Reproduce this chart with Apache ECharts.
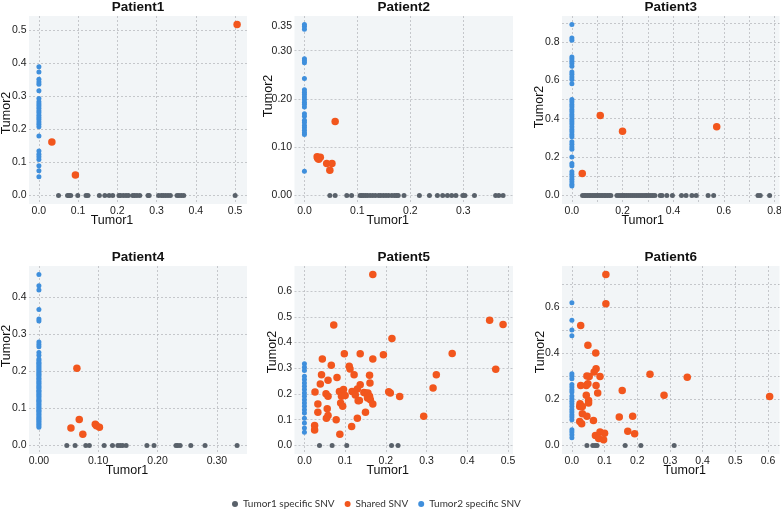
<!DOCTYPE html>
<html><head><meta charset="utf-8">
<script src="https://cdn.jsdelivr.net/npm/echarts@6/dist/echarts.min.js"></script>
<style>html,body{margin:0;padding:0;background:#fff}#c{width:781px;height:515px}</style>
</head><body><div id="c"></div>
<script>
const patients = ['Patient1', 'Patient2', 'Patient3', 'Patient4', 'Patient5', 'Patient6'];
const seriesNames = ['Tumor1 specific SNV', 'Shared SNV', 'Tumor2 specific SNV'];
const xAxisName = 'Tumor1';
const yAxisName = 'Tumor2';

// Patient1
const p1Tumor1 = [0.050,0.073,0.077,0.081,0.099,0.120,0.125,0.154,0.168,0.179,0.188,0.204,0.208,0.215,0.222,0.228,0.239,0.244,0.250,0.257,0.278,0.281,0.305,0.312,0.317,0.323,0.329,0.335,0.352,0.357,0.363,0.369,0.500];
const p1Tumor2 = [0.390,0.374,0.352,0.344,0.337,0.317,0.294,0.284,0.277,0.271,0.264,0.257,0.251,0.243,0.236,0.230,0.223,0.216,0.208,0.180,0.135,0.125,0.117,0.109,0.090,0.075,0.057];
const p1SharedX = [0.033, 0.093, 0.505];
const p1SharedY = [0.162, 0.062, 0.518];

// Patient2
const p2Tumor1 = [0.048,0.058,0.080,0.089,0.105,0.108,0.111,0.115,0.119,0.124,0.129,0.134,0.140,0.144,0.149,0.154,0.159,0.165,0.170,0.174,0.177,0.188,0.217,0.236,0.251,0.261,0.270,0.278,0.286,0.299,0.303,0.321,0.361,0.367,0.375];
const p2Tumor2 = [0.354,0.350,0.344,0.283,0.279,0.275,0.242,0.219,0.214,0.209,0.204,0.199,0.193,0.189,0.183,0.169,0.164,0.156,0.151,0.145,0.140,0.135,0.130,0.126,0.050];
const p2SharedX = [0.024, 0.027, 0.030, 0.025, 0.042, 0.052, 0.048, 0.058];
const p2SharedY = [0.080, 0.075, 0.079, 0.077, 0.066, 0.066, 0.052, 0.153];

// Patient3
const p3Tumor1 = [0.042,0.049,0.055,0.062,0.069,0.075,0.082,0.088,0.095,0.101,0.108,0.115,0.121,0.128,0.134,0.141,0.148,0.154,0.178,0.186,0.194,0.202,0.209,0.217,0.225,0.233,0.241,0.249,0.257,0.265,0.273,0.281,0.289,0.296,0.304,0.312,0.320,0.328,0.349,0.356,0.375,0.397,0.433,0.451,0.474,0.491,0.538,0.560,0.735,0.744,0.781];
const p3Tumor2 = [0.891,0.821,0.809,0.722,0.712,0.700,0.688,0.674,0.644,0.632,0.618,0.604,0.583,0.500,0.488,0.474,0.462,0.448,0.436,0.422,0.410,0.396,0.384,0.372,0.358,0.344,0.332,0.318,0.306,0.280,0.267,0.253,0.241,0.201,0.167,0.155,0.123,0.111,0.097,0.085,0.071,0.059,0.049];
const p3SharedX = [0.041, 0.112, 0.200, 0.572];
const p3SharedY = [0.115, 0.417, 0.335, 0.358];

// Patient4
const p4Tumor1 = [0.047,0.061,0.079,0.085,0.110,0.124,0.133,0.137,0.141,0.147,0.182,0.194,0.231,0.234,0.238,0.256,0.280,0.334];
const p4Tumor2 = [0.461,0.431,0.419,0.367,0.341,0.336,0.279,0.272,0.266,0.251,0.243,0.233,0.229,0.224,0.221,0.217,0.213,0.209,0.205,0.201,0.197,0.193,0.190,0.186,0.181,0.178,0.173,0.169,0.166,0.161,0.158,0.154,0.149,0.146,0.142,0.138,0.134,0.131,0.126,0.122,0.119,0.115,0.111,0.107,0.103,0.099,0.095,0.092,0.088,0.084,0.080,0.076,0.072,0.069,0.065,0.061,0.057,0.053,0.049];
const p4SharedX = [0.054, 0.064, 0.068, 0.074, 0.095, 0.097, 0.102];
const p4SharedY = [0.047, 0.208, 0.070, 0.030, 0.057, 0.053, 0.049];

// Patient5
const p5Tumor1 = [0.037, 0.068, 0.104, 0.214, 0.230];
const p5Tumor2 = [0.317,0.304,0.291,0.269,0.256,0.243,0.230,0.217,0.204,0.191,0.178,0.165,0.152,0.139,0.126,0.106,0.087,0.068,0.051];
const p5SharedX = [0.168,0.072,0.215,0.455,0.488,0.470,0.363,0.324,0.316,0.293,0.234,0.211,0.207,0.194,0.168,0.137,0.098,0.044,0.042,0.039,0.026,0.066,0.080,0.058,0.110,0.112,0.122,0.160,0.137,0.161,0.053,0.058,0.086,0.096,0.091,0.100,0.117,0.130,0.125,0.146,0.150,0.156,0.160,0.155,0.162,0.135,0.132,0.168,0.089,0.094,0.033,0.033,0.056,0.054,0.058,0.078,0.130,0.150,0.116,0.087,0.025,0.025];
const p5SharedY = [0.664,0.468,0.416,0.486,0.470,0.296,0.357,0.275,0.223,0.113,0.190,0.204,0.209,0.352,0.336,0.356,0.356,0.336,0.275,0.239,0.208,0.312,0.264,0.253,0.308,0.297,0.275,0.273,0.236,0.243,0.201,0.191,0.210,0.217,0.191,0.194,0.210,0.219,0.196,0.206,0.204,0.204,0.191,0.184,0.178,0.175,0.174,0.161,0.165,0.152,0.161,0.129,0.143,0.106,0.116,0.100,0.106,0.129,0.074,0.044,0.078,0.060];

// Patient6
const p6Tumor1 = [0.046, 0.064, 0.071, 0.077, 0.163, 0.211, 0.313];
const p6Tumor2 = [0.618,0.542,0.500,0.475,0.311,0.301,0.289,0.264,0.253,0.241,0.231,0.214,0.202,0.191,0.181,0.169,0.156,0.145,0.133,0.123,0.111,0.068,0.058,0.046,0.033];
const p6SharedX = [0.104,0.104,0.027,0.049,0.073,0.074,0.068,0.086,0.046,0.053,0.027,0.044,0.049,0.074,0.079,0.044,0.051,0.051,0.025,0.024,0.032,0.032,0.046,0.024,0.030,0.066,0.154,0.239,0.353,0.282,0.605,0.145,0.186,0.171,0.192,0.072,0.086,0.100,0.082,0.097];
const p6SharedY = [0.740,0.614,0.519,0.434,0.400,0.332,0.318,0.299,0.301,0.299,0.260,0.260,0.267,0.260,0.227,0.217,0.195,0.184,0.181,0.169,0.169,0.137,0.126,0.104,0.094,0.108,0.238,0.308,0.295,0.217,0.212,0.123,0.126,0.061,0.051,0.043,0.058,0.053,0.030,0.025];

const tumor1Specific = [p1Tumor1, p2Tumor1, p3Tumor1, p4Tumor1, p5Tumor1, p6Tumor1];
const tumor2Specific = [p1Tumor2, p2Tumor2, p3Tumor2, p4Tumor2, p5Tumor2, p6Tumor2];
const sharedX = [p1SharedX, p2SharedX, p3SharedX, p4SharedX, p5SharedX, p6SharedX];
const sharedY = [p1SharedY, p2SharedY, p3SharedY, p4SharedY, p5SharedY, p6SharedY];

// tick settings (step of grid lines, step of labels, decimals, extra labels in hundredths)
const xTicks = [
  {step: 0.1, labelStep: 0.1, dec: 1},
  {step: 0.1, labelStep: 0.1, dec: 1},
  {step: 0.1, labelStep: 0.2, dec: 1},
  {step: 0.1, labelStep: 0.1, dec: 2},
  {step: 0.1, labelStep: 0.1, dec: 1},
  {step: 0.1, labelStep: 0.1, dec: 1}
];
const yTicks = [
  {step: 0.1, labelStep: 0.1, dec: 1},
  {step: 0.05, labelStep: 0.1, dec: 2, extra: [35], alt: true},
  {step: 0.1, labelStep: 0.2, dec: 1},
  {step: 0.1, labelStep: 0.1, dec: 1},
  {step: 0.1, labelStep: 0.1, dec: 1},
  {step: 0.1, labelStep: 0.2, dec: 1}
];

// layout (pixels)
const layout = [
  {left: 29,    top: 16,  width: 218,   height: 188, xdx: -26, ydy: 3,   ygap: 16},
  {left: 294.5, top: 16,  width: 218.5, height: 188, xdx: -16, ydy: -14, ygap: 19.5},
  {left: 562,   top: 16,  width: 217.5, height: 188, xdx: -28, ydy: -3,  ygap: 15.5},
  {left: 29,    top: 266, width: 218,   height: 188, xdx: -11, ydy: -14, ygap: 16},
  {left: 294.5, top: 266, width: 218.5, height: 188, xdx: -16, ydy: -8,  ygap: 15.5},
  {left: 562,   top: 266, width: 217.5, height: 188, xdx: 14,  ydy: -8,  ygap: 15}
];

const COL_T1 = '#59616a';
const COL_SH = '#f2561d';
const COL_T2 = '#3f8fdc';
const GRID_COL = '#b9bcbf';
const FONT = 'Liberation Sans';

function extentOf(vals) {
  let mn = Math.min(...vals), mx = Math.max(...vals);
  const pad = (mx - mn) * 0.05;
  return [mn - pad, mx + pad];
}

function fmt(cfg) {
  const ls = Math.round(cfg.labelStep * 100);
  const extra = cfg.extra || [];
  return function (v) {
    const n = Math.round(v * 100);
    if (Math.abs(v * 100 - n) > 1e-6) return '';
    if (n % ls === 0 || extra.indexOf(n) >= 0) return v.toFixed(cfg.dec);
    return '';
  };
}

function padX(dx) { return dx < 0 ? [0, -2 * dx, 0, 0] : [0, 0, 0, 2 * dx]; }
function padY(dy) { return dy < 0 ? [0, 0, 0, -2 * dy] : [0, 2 * dy, 0, 0]; }

const grids = [], xAxes = [], yAxes = [], series = [], titles = [];
for (let i = 0; i < 6; i++) {
  const L = layout[i];
  grids.push({left: L.left, top: L.top, width: L.width, height: L.height, show: true,
    backgroundColor: '#f2f5f7', borderWidth: 0, containLabel: false, outerBoundsMode: 'none'});
  const xs = [0].concat(tumor1Specific[i], sharedX[i]);
  const ys = [0].concat(tumor2Specific[i], sharedY[i]);
  const xe = extentOf(xs), ye = extentOf(ys);
  const xc = xTicks[i], yc = yTicks[i];
  xAxes.push({
    type: 'value', gridIndex: i, min: xe[0], max: xe[1],
    minInterval: xc.step, maxInterval: xc.step, splitNumber: 6,
    axisLine: {show: false}, axisTick: {show: false},
    axisLabel: {margin: 1.5, fontSize: 10.5, color: '#222', fontFamily: FONT, formatter: fmt(xc),
      showMinLabel: false, showMaxLabel: false},
    splitLine: {show: true, showMinLine: false, showMaxLine: false,
      lineStyle: {color: GRID_COL, type: [2, 2], width: 0.8}},
    name: xAxisName, nameLocation: 'middle', nameGap: 10.5, nameMoveOverlap: false,
    nameTextStyle: {fontSize: 12.5, color: '#111', fontFamily: FONT, padding: padX(L.xdx)}
  });
  yAxes.push({
    type: 'value', gridIndex: i, min: ye[0], max: ye[1],
    minInterval: yc.step, maxInterval: yc.step, splitNumber: 8,
    axisLine: {show: false}, axisTick: {show: false},
    axisLabel: {margin: 2.5, fontSize: 10.5, color: '#222', fontFamily: FONT, formatter: fmt(yc),
      showMinLabel: false, showMaxLabel: false},
    splitLine: {show: true, showMinLine: false, showMaxLine: false,
      lineStyle: {color: yc.alt ? [GRID_COL, 'rgba(0,0,0,0)'] : GRID_COL, type: [2, 2], width: 0.8}},
    name: yAxisName, nameLocation: 'middle', nameGap: L.ygap, nameMoveOverlap: false,
    nameTextStyle: {fontSize: 12.5, color: '#111', fontFamily: FONT, padding: padY(L.ydy)}
  });
  titles.push({text: patients[i], left: L.left + L.width / 2, top: L.top - 16, textAlign: 'center', padding: 0,
    textStyle: {fontSize: 13.5, fontWeight: 'bold', color: '#111', fontFamily: FONT}});
  series.push({
    type: 'scatter', name: seriesNames[0], xAxisIndex: i, yAxisIndex: i, symbolSize: 5,
    itemStyle: {color: COL_T1, opacity: 1},
    data: tumor1Specific[i].map(x => [x, 0])
  });
  series.push({
    type: 'scatter', name: seriesNames[1], xAxisIndex: i, yAxisIndex: i, symbolSize: 7.5,
    itemStyle: {color: COL_SH, opacity: 1},
    data: sharedX[i].map((x, j) => [x, sharedY[i][j]])
  });
  series.push({
    type: 'scatter', name: seriesNames[2], xAxisIndex: i, yAxisIndex: i, symbolSize: 5,
    itemStyle: {color: COL_T2, opacity: 1},
    data: tumor2Specific[i].map(y => [0, y])
  });
}

const chart = echarts.init(document.getElementById('c'), null, {renderer: 'canvas'});
chart.setOption({
  animation: false,
  backgroundColor: '#ffffff',
  title: titles,
  grid: grids,
  xAxis: xAxes,
  yAxis: yAxes,
  legend: {
    data: seriesNames, left: 232, top: 499, icon: 'circle', itemWidth: 6, itemHeight: 6, itemGap: 10,
    textStyle: {fontSize: 10, color: '#333', fontFamily: 'Lato'}, padding: 0
  },
  series: series
});
</script></body></html>
